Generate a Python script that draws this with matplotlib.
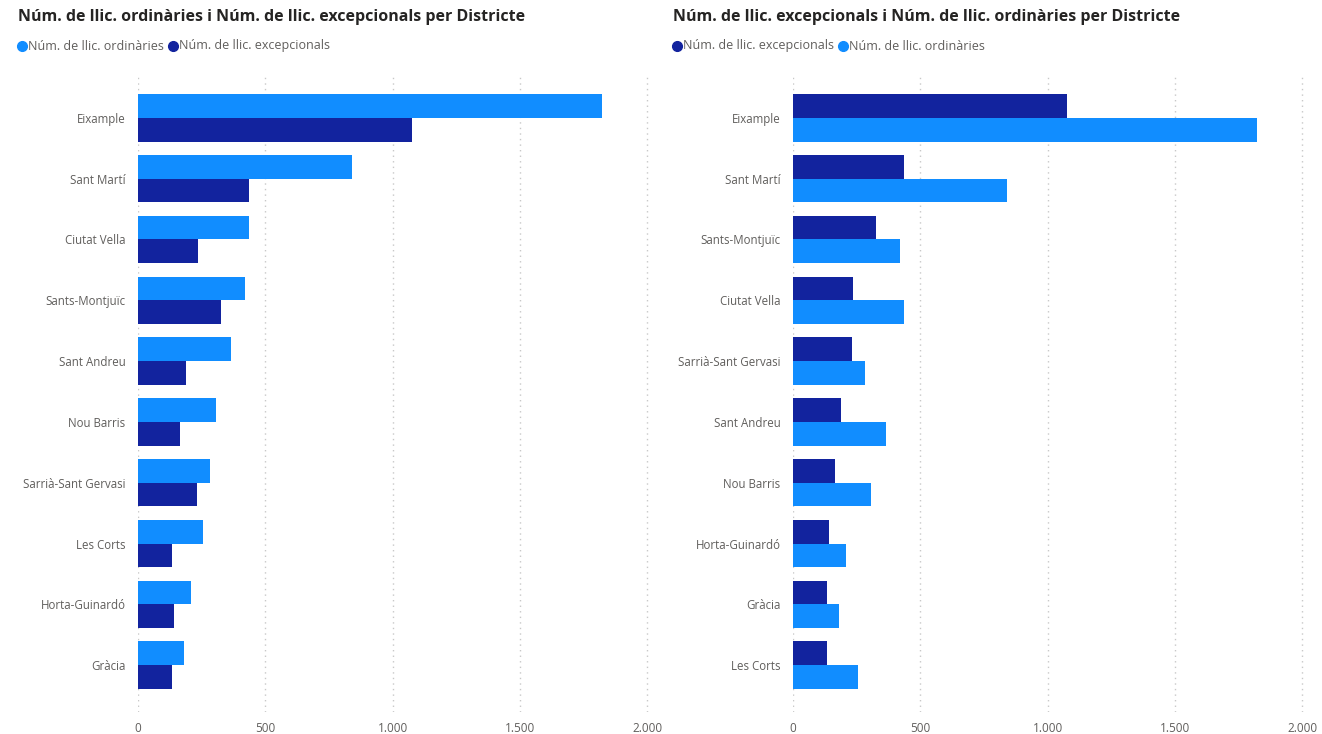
import matplotlib.pyplot as plt
import numpy as np
from matplotlib.ticker import FuncFormatter

# data
districtes = ['Eixample', 'Sant Martí', 'Ciutat Vella', 'Sants-Montjuïc', 'Sant Andreu',
              'Nou Barris', 'Sarrià-Sant Gervasi', 'Les Corts', 'Horta-Guinardó', 'Gràcia']
ordinaries = [1822, 841, 434, 422, 367, 306, 281, 257, 208, 182]
excepcionals = [1075, 434, 237, 324, 188, 165, 230, 132, 141, 135]

# right chart is sorted by excepcionals
ordre_dreta = ['Eixample', 'Sant Martí', 'Sants-Montjuïc', 'Ciutat Vella', 'Sarrià-Sant Gervasi',
               'Sant Andreu', 'Nou Barris', 'Horta-Guinardó', 'Gràcia', 'Les Corts']

x_ticks = [0, 500, 1000, 1500, 2000]

LIGHT = '#118DFF'
DARK = '#12239E'
TXT = '#605E5C'
TITLE = '#252423'

plt.rcParams['font.family'] = ['Open Sans', 'DejaVu Sans']

fig = plt.figure(figsize=(13.22, 7.34), dpi=100)
W, H = 1322, 734


def fmt(v, pos):
    return f'{int(v):,}'.replace(',', '.')


def panel(left_px, cats, first, second, colors, labels, title, tx):
    ax = fig.add_axes([left_px / W, 1 - 712 / H, 522 / W, (712 - 74) / H])
    y = np.arange(len(cats))
    h = 0.39
    ax.barh(y - h / 2, first, height=h, color=colors[0], zorder=3)
    ax.barh(y + h / 2, second, height=h, color=colors[1], zorder=3)
    ax.set_ylim(9.77, -0.72)
    ax.set_xlim(0, 2050)
    ax.set_yticks(y)
    ax.set_yticklabels(cats, fontsize=8.3, color=TXT)
    ax.set_xticks(x_ticks)
    ax.xaxis.set_major_formatter(FuncFormatter(fmt))
    ax.tick_params(axis='x', labelsize=8.5, colors=TXT, length=0, pad=7)
    ax.tick_params(axis='y', length=0, pad=9)
    for s in ax.spines.values():
        s.set_visible(False)
    ax.grid(axis='x', color='#C8C8C8', linestyle=(0, (1, 3)), linewidth=1, zorder=0)
    fig.text(tx / W, 1 - 17 / H, title, fontsize=11.5, fontweight='bold', color=TITLE,
             va='center', ha='left')
    # legend
    lx = tx + 4
    for lab, c in zip(labels, colors):
        ax.plot([lx / W], [1 - 46 / H], 'o', color=c, markersize=7,
                transform=fig.transFigure, clip_on=False)
        t = fig.text((lx + 6) / W, 1 - 46 / H, lab, fontsize=9, color=TXT, va='center', ha='left')
        fig.canvas.draw()
        bb = t.get_window_extent()
        lx = bb.x1 + 9
    return ax


panel(138, districtes, ordinaries, excepcionals, [LIGHT, DARK],
      ['Núm. de llic. ordinàries', 'Núm. de llic. excepcionals'],
      'Núm. de llic. ordinàries i Núm. de llic. excepcionals per Districte', 18)

idx = [districtes.index(d) for d in ordre_dreta]
exc_r = [excepcionals[i] for i in idx]
ord_r = [ordinaries[i] for i in idx]
panel(793, ordre_dreta, exc_r, ord_r, [DARK, LIGHT],
      ['Núm. de llic. excepcionals', 'Núm. de llic. ordinàries'],
      'Núm. de llic. excepcionals i Núm. de llic. ordinàries per Districte', 673)

fig.savefig('out.png', dpi=100)
